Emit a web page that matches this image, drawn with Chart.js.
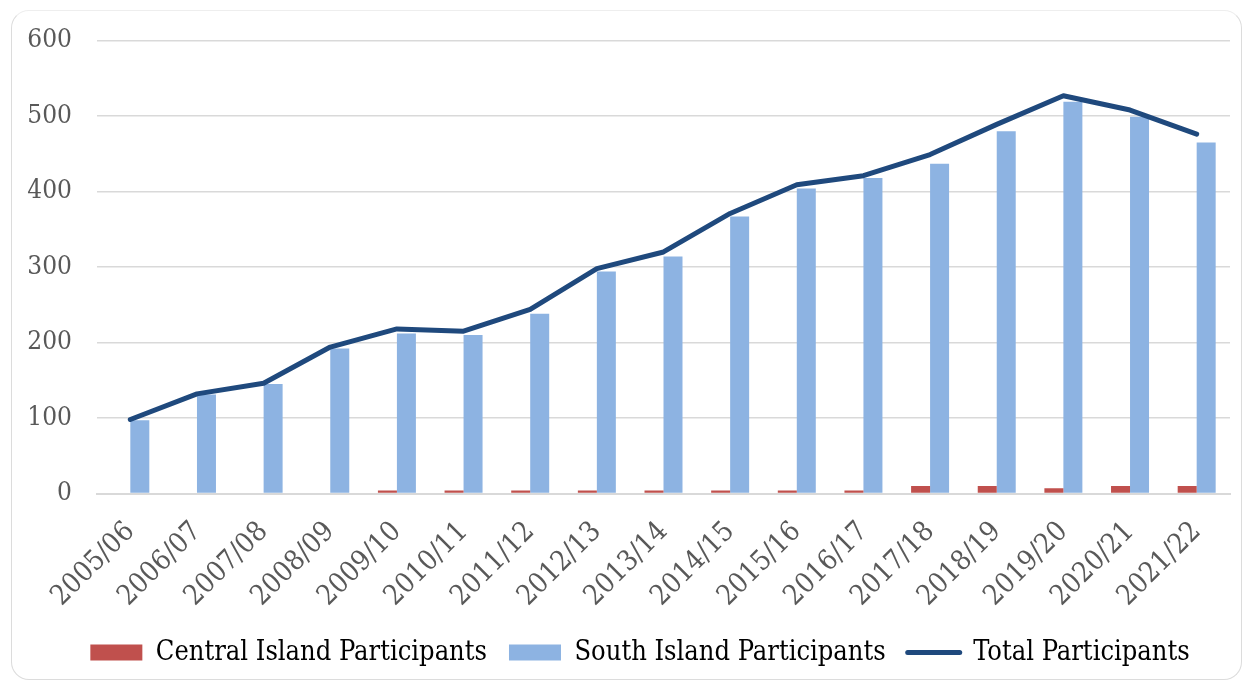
<!DOCTYPE html>
<html>
<head>
<meta charset="utf-8">
<script src="https://cdn.jsdelivr.net/npm/chart.js@4.4.0/dist/chart.umd.min.js"></script>
<style>
  html, body { margin: 0; padding: 0; background: #ffffff; }
  body { width: 1248px; height: 687px; position: relative; overflow: hidden; }
  #frame {
    position: absolute; left: 11px; top: 10px; width: 1231px; height: 670px;
    border: 1.5px solid #dcdcdc; border-top-color: #eeeeee; border-radius: 18px;
    box-sizing: border-box;
  }
  #chart { position: absolute; left: 0; top: 0; }
</style>
</head>
<body>
<div id="frame"></div>
<canvas id="chart" width="1248" height="687"></canvas>
<script>
// Participation by season
const seasons = ['2005/06', '2006/07', '2007/08', '2008/09', '2009/10', '2010/11', '2011/12',
  '2012/13', '2013/14', '2014/15', '2015/16', '2016/17', '2017/18', '2018/19', '2019/20',
  '2020/21', '2021/22'];
const centralIsland = [0, 0, 0, 0, 4, 4, 4, 4, 4, 4, 4, 4, 10, 10, 7, 10, 10];
const southIsland = [97, 131, 145, 192, 212, 210, 238, 294, 314, 367, 404, 418, 437, 480, 519, 499, 465];
const totalParticipants = [98, 132, 146, 194, 218, 215, 244, 298, 320, 371, 409, 421, 449, 489, 527, 508, 476];
const yTicks = [0, 100, 200, 300, 400, 500, 600];

const FONT = "'DejaVu Serif Condensed', 'DejaVu Serif', serif";
const GREY_TEXT = '#595959';
const GRID = '#d9d9d9';

// Nudge the legend row so it sits centred under the plot area rather than the canvas
const legendShift = {
  id: 'legendShift',
  afterLayout(chart) {
    const lg = chart.legend;
    if (lg) { lg.left += 25; lg.right += 25; }
  }
};

new Chart(document.getElementById('chart'), {
  data: {
    labels: seasons,
    datasets: [
      {
        type: 'bar',
        label: 'Central Island Participants',
        data: centralIsland,
        backgroundColor: '#c0504d',
        order: 1
      },
      {
        type: 'bar',
        label: 'South Island Participants',
        data: southIsland,
        backgroundColor: '#8db3e2',
        order: 2
      },
      {
        type: 'line',
        label: 'Total Participants',
        data: totalParticipants,
        borderColor: '#1f497d',
        backgroundColor: '#1f497d',
        borderWidth: 5,
        borderCapStyle: 'round',
        borderJoinStyle: 'round',
        pointRadius: 0,
        pointHoverRadius: 0,
        tension: 0,
        order: 0
      }
    ]
  },
  plugins: [legendShift],
  options: {
    responsive: false,
    animation: false,
    devicePixelRatio: 1,
    layout: { padding: { left: 0, right: 18, top: 38, bottom: 11 } },
    datasets: {
      bar: { categoryPercentage: 0.57, barPercentage: 1.0 }
    },
    scales: {
      x: {
        grid: { display: false, drawTicks: false },
        border: { display: true, color: GRID, width: 2 },
        ticks: {
          color: GREY_TEXT,
          font: { family: FONT, size: 28 },
          minRotation: 45,
          maxRotation: 45,
          autoSkip: false,
          padding: 22
        },
        afterFit: (scale) => { scale.height = 123.5; }
      },
      y: {
        min: 0,
        max: 600,
        afterBuildTicks: (scale) => { scale.ticks = yTicks.map(v => ({ value: v })); },
        grid: { color: GRID, lineWidth: 1.5, drawTicks: false },
        border: { display: false },
        ticks: {
          color: GREY_TEXT,
          font: { family: FONT, size: 26 },
          padding: 25
        },
        afterFit: (scale) => { scale.width = 97; }
      }
    },
    plugins: {
      tooltip: { enabled: false },
      legend: {
        position: 'bottom',
        labels: {
          color: '#000000',
          font: { family: FONT, size: 27 },
          usePointStyle: true,
          pointStyleWidth: 52,
          boxHeight: 16,
          padding: 22,
          sort: (a, b) => a.datasetIndex - b.datasetIndex,
          generateLabels: (chart) => chart.data.datasets.map((ds, i) => {
            const isLine = ds.type === 'line';
            return {
              text: ds.label,
              datasetIndex: i,
              fillStyle: ds.backgroundColor,
              strokeStyle: isLine ? ds.borderColor : ds.backgroundColor,
              lineWidth: isLine ? 5 : 0,
              lineCap: 'round',
              pointStyle: isLine ? 'line' : 'rect',
              fontColor: '#000000',
              hidden: false
            };
          })
        }
      }
    }
  }
});
</script>
</body>
</html>
